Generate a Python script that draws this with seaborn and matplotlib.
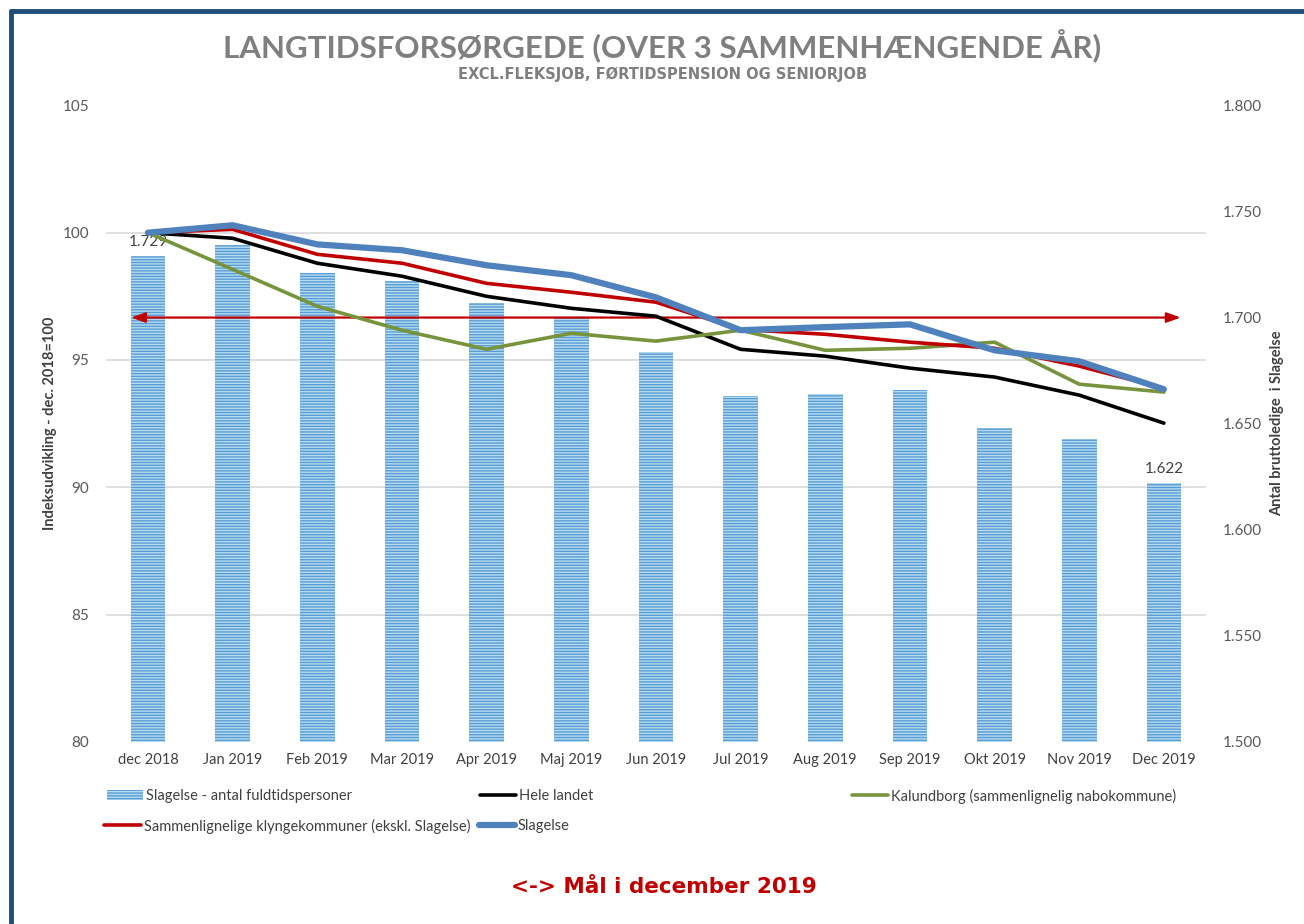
import matplotlib
matplotlib.use("Agg")
import matplotlib.pyplot as plt
import numpy as np
import pandas as pd
import seaborn as sns

months = ["dec 2018", "Jan 2019", "Feb 2019", "Mar 2019", "Apr 2019", "Maj 2019", "Jun 2019",
          "Jul 2019", "Aug 2019", "Sep 2019", "Okt 2019", "Nov 2019", "Dec 2019"]
persons = [1729, 1734, 1721, 1717, 1707, 1700, 1684, 1663, 1664, 1666, 1648, 1643, 1622]
hele_landet = [100, 99.78, 98.80, 98.29, 97.50, 97.03, 96.72, 95.42, 95.15, 94.68, 94.33, 93.62, 92.52]
kalundborg = [100, 98.56, 97.11, 96.17, 95.42, 96.05, 95.74, 96.17, 95.38, 95.46, 95.70, 94.05, 93.74]
klynge = [100, 100.13, 99.15, 98.80, 98.01, 97.66, 97.27, 96.20, 96.01, 95.70, 95.46, 94.76, 93.89]
slagelse = [100, 100.29, 99.54, 99.31, 98.72, 98.33, 97.46, 96.17, 96.29, 96.40, 95.38, 94.95, 93.85]
goal = 1700

sns.set_theme(style="white")
plt.rcParams['font.family'] = ['Lato', 'DejaVu Sans']
plt.rcParams['hatch.color'] = '#5b9bd5'
plt.rcParams['hatch.linewidth'] = 1.0

GREY = "#595959"
DARK = "#404040"


def dk(v):
    return f"{v:,}".replace(",", ".")


df = pd.DataFrame({"Måned": months, "pos": range(len(months)), "Personer": persons,
                   "Hele landet": hele_landet, "Kalundborg": kalundborg,
                   "Klynge": klynge, "Slagelse": slagelse})

fig = plt.figure(figsize=(13.04, 9.24), dpi=100)
ax = fig.add_axes([0.081, 0.197, 0.844, 0.689])
ax2 = ax.twinx()

# bars on the count axis (drawn first, ticks on the right)
sns.barplot(data=df, x="pos", y="Personer", ax=ax, color="#b4dcef", width=0.41,
            edgecolor="#5b9bd5", linewidth=0, hatch="------", saturation=1,
            label="Slagelse - antal fuldtidspersoner")
ax.get_legend().remove()
ax.set_ylim(1500, 1800)
right_ticks = np.arange(1500, 1801, 50)
ax.set_yticks(right_ticks)
ax.set_yticklabels([dk(v) for v in right_ticks])
ax.yaxis.tick_right()
ax.yaxis.set_label_position("right")

labels = [""] * len(persons)
labels[0] = dk(persons[0])
labels[-1] = dk(persons[-1])
ax.bar_label(ax.containers[0], labels=labels, padding=5, fontsize=11, color=DARK)
ax.set_ylabel("Antal bruttoledige  i Slagelse", fontsize=10.5, fontweight="bold",
              color=DARK, labelpad=6)
ax.annotate("", xy=(12.2, goal), xytext=(-0.2, goal),
            arrowprops=dict(arrowstyle="<|-|>,head_length=0.7,head_width=0.25",
                            color="#c00000", lw=1.6, shrinkA=0, shrinkB=0))

# index lines on the left axis
sns.lineplot(data=df, x="pos", y="Hele landet", ax=ax2, color="black", linewidth=2.6,
             label="Hele landet")
sns.lineplot(data=df, x="pos", y="Kalundborg", ax=ax2, color="#77933c", linewidth=2.6,
             label="Kalundborg (sammenlignelig nabokommune)")
sns.lineplot(data=df, x="pos", y="Klynge", ax=ax2, color="#c00000", linewidth=2.6,
             label="Sammenlignelige klyngekommuner (ekskl. Slagelse)")
sns.lineplot(data=df, x="pos", y="Slagelse", ax=ax2, color="#4f81bd", linewidth=4.5,
             label="Slagelse")
ax2.set_ylim(80, 105)
left_ticks = np.arange(80, 106, 5)
ax2.set_yticks(left_ticks)
ax2.yaxis.tick_left()
ax2.yaxis.set_label_position("left")
ax2.set_ylabel("Indeksudvikling - dec. 2018=100", fontsize=10.5, fontweight="bold",
               color=DARK, labelpad=4)
ax2.grid(False)

# gridlines follow the left (index) ticks, drawn behind the bars
lo, hi = ax.get_ylim()
ax.set_yticks(lo + (left_ticks - 80) / 25 * (hi - lo), minor=True)
ax.grid(False)
ax.grid(axis="y", which="minor", color="#d9d9d9", linewidth=1.2)
ax.tick_params(axis="y", which="minor", length=0)
ax.set_axisbelow(True)

for a in (ax, ax2):
    a.set_xlim(-0.5, len(months) - 0.5)
    a.tick_params(axis="both", length=0, labelsize=11, labelcolor=GREY, pad=12)
    for s in a.spines.values():
        s.set_visible(False)
ax.set_xticks(range(len(months)))
ax.set_xticklabels(months, fontsize=10.5, color=DARK)
ax.set_xlabel("")
ax2.tick_params(axis="x", length=0)
ax.tick_params(axis="x", pad=8)

# legend, placed entry by entry like the Excel layout
h1, l1 = ax.get_legend_handles_labels()
h2, l2 = ax2.get_legend_handles_labels()
ax2.get_legend().remove()
hl = dict(zip(l1 + l2, h1 + h2))
legend_pos = [
    ("Slagelse - antal fuldtidspersoner", 0.082, 0.1385),
    ("Hele landet", 0.368, 0.1385),
    ("Kalundborg (sammenlignelig nabokommune)", 0.653, 0.1385),
    ("Sammenlignelige klyngekommuner (ekskl. Slagelse)", 0.080, 0.106),
    ("Slagelse", 0.367, 0.106),
]
for name, x, y in legend_pos:
    fig.legend([hl[name]], [name], loc="center left", bbox_to_anchor=(x, y),
               frameon=False, fontsize=10.5, handlelength=2.5, handletextpad=0.2,
               borderpad=0, borderaxespad=0, labelcolor=DARK)

fig.text(0.508, 0.951, "LANGTIDSFORSØRGEDE (OVER 3 SAMMENHÆNGENDE ÅR)", ha="center",
         va="center", fontsize=22.5, fontweight="bold", color="#7f7f7f")
fig.text(0.508, 0.920, "EXCL.FLEKSJOB, FØRTIDSPENSION OG SENIORJOB", ha="center",
         va="center", fontsize=10.5, fontweight="bold", color="#7f7f7f",
         family="DejaVu Sans")
fig.text(0.509, 0.040, "<-> Mål i december 2019", ha="center", va="center",
         fontsize=15.5, fontweight="bold", color="#c00000", family="DejaVu Sans")

# frame
fig.add_artist(plt.Line2D([0.0085, 1.0], [0.988, 0.988], color="#1f4e79", lw=3.5))
fig.add_artist(plt.Line2D([0.0085, 0.0085], [0.0, 0.988], color="#1f4e79", lw=3.5))

fig.savefig("out.png", dpi=100)
